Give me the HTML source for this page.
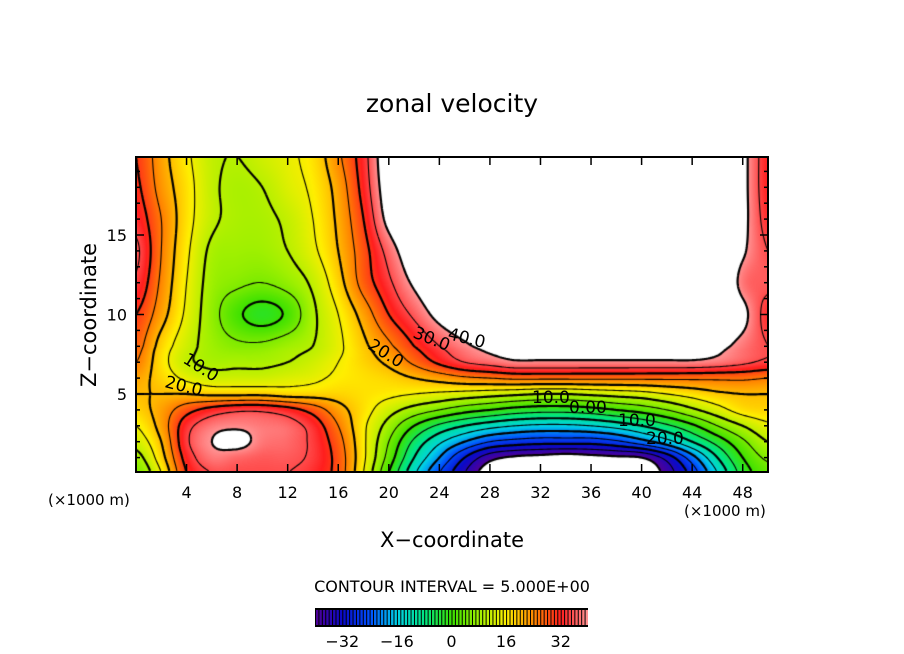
<!DOCTYPE html>
<html><head><meta charset="utf-8"><style>
body{margin:0;background:#fff;width:904px;height:654px;overflow:hidden;position:relative;font-family:"DejaVu Sans","Liberation Sans",sans-serif}
#field{position:absolute;left:136px;top:157px}
#ov{position:absolute;left:0;top:0}
</style></head><body>
<canvas id="field" width="632" height="315"></canvas>
<svg id="ov" width="904" height="654">
<text x="452" y="112" font-size="25" text-anchor="middle">zonal velocity</text>
<g id="axes"></g>
<g id="labels" font-size="17">
<text transform="translate(182,362) rotate(32)">10.0</text>
<text transform="translate(164,387) rotate(14)">20.0</text>
<text transform="translate(367,348) rotate(32)">20.0</text>
<text transform="translate(412,337) rotate(22)">30.0</text>
<text transform="translate(447,339) rotate(14)">40.0</text>
<text x="532" y="403">10.0</text>
<text x="569" y="413">0.00</text>
<text x="618" y="426">10.0</text>
<text x="646" y="444">20.0</text>
</g>
<text x="48" y="505" font-size="15">(×1000 m)</text>
<text x="684" y="516" font-size="15">(×1000 m)</text>
<text x="452" y="547" font-size="21" text-anchor="middle">X−coordinate</text>
<text transform="translate(96,315) rotate(-90)" font-size="21" text-anchor="middle">Z−coordinate</text>
<text x="452" y="592" font-size="16" text-anchor="middle">CONTOUR INTERVAL = 5.000E+00</text>
<g id="cbar"></g>
</svg>
<script>
const xs=[0,2,4,6,8,10,12,14,16,18,20,22,24,26,28,30,32,34,36,38,40,42,44,46,48,50];
const zs=[0,1,2,3,4,5,6,7,8,10,12,14,16,18,20];
const u0=[5,15,30,35,35,35,35,33,28,15,0,-14,-25,-35,-44,-48,-50,-50,-50,-48,-46,-38,-28,-15,-3,3];
const u1=[8,18,32,38,37,36,36,34,28,16,3,-10,-20,-30,-38,-41,-42,-43,-42,-41,-40,-33,-22,-10,0,6];
const u2=[12,20,34,40,42,38,37,34,27,16,5,-6,-14,-20,-25,-27,-28,-28,-28,-26,-22,-17,-10,-3,4,10];
const u3=[15,22,33,38,39,38,37,33,25,16,8,0,-6,-10,-13,-15,-16,-16,-15,-13,-10,-6,-1,5,10,14];
const u4=[18,22,28,32,34,34,32,28,22,17,12,8,5,2,0,-2,-3,-3,-2,0,2,5,9,13,17,18];
const u5=[20,20,20,19,19,19,18,18,18,17,16,15,14,13,12,11,10,10,11,12,13,15,17,19,20,20];
const u6=[22,18,14,12,12,12,13,14,16,17,18,20,22,24,25,26,26,26,26,26,26,26,26,26,26,25];
const u7=[25,17,11,9,9,9,10,12,15,18,21,26,31,35,37,39,39,39,39,39,39,39,39,38,36,34];
const u8=[27,18,12,8,6,6,8,10,14,19,24,30,35,39,42,44,44,44,44,44,44,44,44,42,38,35];
const u10=[30,22,14,7,1,-2,1,9,15,22,30,36,42,46,48,50,50,50,50,50,50,50,50,50,42,33];
const u12=[34,24,15,8,6,5,7,11,18,27,34,41,46,48,50,50,50,50,50,50,50,50,50,50,38,36];
const u14=[36,25,16,9,8,8,10,14,20,28,37,45,50,50,50,50,50,50,50,50,50,50,50,50,41,35];
const u16=[33,25,17,11,9,9,11,15,21,30,42,48,50,50,50,50,50,50,50,50,50,50,50,50,42,33];
const u18=[31,23,17,11,9,10,13,16,22,32,44,50,50,50,50,50,50,50,50,50,50,50,50,50,42,32];
const u20=[30,22,16,11,10,12,14,17,24,33,45,50,50,50,50,50,50,50,50,50,50,50,50,50,42,32];
const rows=[u0,u1,u2,u3,u4,u5,u6,u7,u8,u10,u12,u14,u16,u18,u20];
const cbTicks=[-32,-16,0,16,32];
const levels=[];for(let l=-40;l<=40;l+=5)levels.push(l);

const X0=136,X1=768,Y0=157,Y1=472;
const xScale=x=>X0+(x-0)/50*(X1-X0);
const zScale=z=>473.5-z*15.9;
const zInv=y=>(473.5-y)/15.9;
const xInv=px=>(px-X0)/(X1-X0)*50;

function idx(arr,v){if(v<=arr[0])return 0;for(let i=0;i<arr.length-1;i++){if(v<=arr[i+1])return i+(v-arr[i])/(arr[i+1]-arr[i]);}return arr.length-1;}
function cr(p0,p1,p2,p3,t){return 0.5*((2*p1)+(-p0+p2)*t+(2*p0-5*p1+4*p2-p3)*t*t+(-p0+3*p1-3*p2+p3)*t*t*t);}
function val(x,z){const fi=idx(xs,x),fj=idx(zs,z);const i=Math.min(Math.floor(fi),xs.length-2),j=Math.min(Math.floor(fj),zs.length-2);const tx=fi-i,tz=fj-j;const col=[];
for(let b=-1;b<=2;b++){const r=rows[Math.max(0,Math.min(zs.length-1,j+b))];const g=k=>r[Math.max(0,Math.min(xs.length-1,k))];col.push(cr(g(i-1),g(i),g(i+1),g(i+2),tx));}
return cr(col[0],col[1],col[2],col[3],tz);}
const stops=[[-40,[80,0,150]],[-32,[10,10,200]],[-24,[0,80,255]],[-16,[0,210,230]],[-8,[0,230,130]],[0,[60,225,0]],[8,[160,240,0]],[16,[255,238,0]],[24,[255,135,0]],[32,[255,30,30]],[40,[255,150,150]]];
function color(v){if(v>40||v<-40)return [255,255,255];for(let i=0;i<stops.length-1;i++){if(v<=stops[i+1][0]){const t=(v-stops[i][0])/(stops[i+1][0]-stops[i][0]);const a=stops[i][1],b=stops[i+1][1];return [a[0]+(b[0]-a[0])*t,a[1]+(b[1]-a[1])*t,a[2]+(b[2]-a[2])*t];}}return stops[stops.length-1][1];}

const cv=document.getElementById('field');const ctx=cv.getContext('2d');
const W=632,H=315;const img=ctx.createImageData(W,H);
for(let py=0;py<H;py++){const z=zInv(Y0+py+0.5);for(let px=0;px<W;px++){const x=xInv(X0+px+0.5);const c=color(val(x,z));const o=(py*W+px)*4;img.data[o]=c[0];img.data[o+1]=c[1];img.data[o+2]=c[2];img.data[o+3]=255;}}
ctx.putImageData(img,0,0);
const S=2,nx=Math.floor(W/S)+1,nz=Math.floor(H/S)+1;const F=[];
for(let j=0;j<nz;j++){F.push([]);for(let i=0;i<nx;i++){F[j].push(val(xInv(X0+i*S),zInv(Y0+j*S)));}}
levels.forEach(L=>{ctx.beginPath();ctx.lineWidth=(L%10===0)?2.2:1.1;ctx.setLineDash(L<0?[6,4]:[]);ctx.strokeStyle='#000';
for(let j=0;j<nz-1;j++)for(let i=0;i<nx-1;i++){const a=F[j][i],b=F[j][i+1],c=F[j+1][i+1],d=F[j+1][i];const pts=[];
const e=(v1,v2,x1,y1,x2,y2)=>{if((v1<L)!==(v2<L)){const t=(L-v1)/(v2-v1);pts.push([x1+(x2-x1)*t,y1+(y2-y1)*t]);}};
const x0=i*S,y0=j*S;e(a,b,x0,y0,x0+S,y0);e(b,c,x0+S,y0,x0+S,y0+S);e(d,c,x0,y0+S,x0+S,y0+S);e(a,d,x0,y0,x0,y0+S);
for(let k=0;k+1<pts.length;k+=2){ctx.moveTo(pts[k][0],pts[k][1]);ctx.lineTo(pts[k+1][0],pts[k+1][1]);}}
ctx.stroke();});
ctx.setLineDash([]);
const NS='http://www.w3.org/2000/svg';const ax=document.getElementById('axes');
function mk(tag,attrs,parent){const el=document.createElementNS(NS,tag);for(const k in attrs)el.setAttribute(k,attrs[k]);parent.appendChild(el);return el;}
const fr=mk('rect',{x:X0,y:Y0,width:X1-X0,height:Y1-Y0,fill:'none',stroke:'#000','stroke-width':2},ax);


for(let x=4;x<=48;x+=4){const px=xScale(x);
mk('line',{x1:px,y1:Y1,x2:px,y2:Y1-8,stroke:'#000','stroke-width':1.5},ax);mk('line',{x1:px,y1:Y0,x2:px,y2:Y0+8,stroke:'#000','stroke-width':1.5},ax);
const t=mk('text',{x:px,y:498,'font-size':16,'text-anchor':'middle'},ax);t.textContent=x;

}
for(let z=1;z<=19;z++){const py=zScale(z);const len=z%5===0?8:4;
mk('line',{x1:X0,y1:py,x2:X0+len,y2:py,stroke:'#000','stroke-width':1.5},ax);mk('line',{x1:X1,y1:py,x2:X1-len,y2:py,stroke:'#000','stroke-width':1.5},ax);
if(z%5===0){const t=mk('text',{x:127,y:py+6,'font-size':16,'text-anchor':'end'},ax);t.textContent=z;

}}
const cb=document.getElementById('cbar');const C0=315,C1=588,cy=608,ch=19;const cs=v=>C0+(v+40)/80*(C1-C0);
mk('rect',{x:C0,y:cy,width:C1-C0,height:ch,fill:'#000'},cb);
for(let v=-40;v<40;v++){const c=color(v+0.5);const r=mk('rect',{x:cs(v)+1,y:cy+2,width:(C1-C0)/80-1,height:ch-4,fill:`rgb(${c.map(Math.round).join(',')})`},cb);

}
cbTicks.forEach(v=>{const t=mk('text',{x:cs(v),y:647,'font-size':16,'text-anchor':'middle'},cb);t.textContent=v<0?'−'+(-v):v;

});
</script>
</body></html>
